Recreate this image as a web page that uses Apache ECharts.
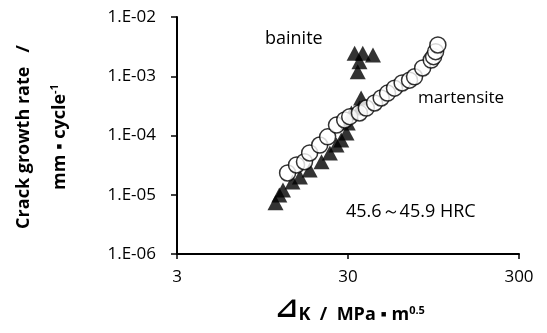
<!DOCTYPE html>
<html>
<head>
<meta charset="utf-8">
<script src="https://cdn.jsdelivr.net/npm/echarts@6/dist/echarts.min.js"></script>
<style>
  html, body { margin: 0; padding: 0; background: #fff; }
  #main { width: 547px; height: 333px; }
</style>
</head>
<body>
<div id="main"></div>
<script>
// ΔK (MPa·m^0.5) and crack growth rate (mm/cycle)
var bainiteK = [11.3, 11.9, 12.5, 14.2, 15.7, 17.9, 21.0, 23.5, 25.7, 27.4, 29.4, 29.9, 31.4, 35.0, 35.8, 34.2, 35.0, 32.8, 36.6, 42.0];
var bainiteRate = [7.3e-6, 9.9e-6, 1.2e-5, 1.64e-5, 2.0e-5, 2.62e-5, 3.6e-5, 5.07e-5, 6.9e-5, 8.4e-5, 1.1e-4, 1.63e-4, 2.4e-4, 2.9e-4, 4.3e-4, 1.19e-3, 1.76e-3, 2.44e-3, 2.44e-3, 2.28e-3];

var martK = [13.3, 15.0, 16.7, 17.9, 20.5, 22.8, 25.7, 28.7, 30.7, 35.0, 38.4, 42.9, 46.9, 51.1, 56.1, 62.2, 68.7, 73.5, 82, 92, 95, 97.6, 100.6];
var martRate = [2.33e-5, 3.18e-5, 3.61e-5, 5.07e-5, 6.9e-5, 9.5e-5, 1.5e-4, 1.83e-4, 2.08e-4, 2.4e-4, 2.91e-4, 3.54e-4, 4.3e-4, 5.2e-4, 6.3e-4, 7.7e-4, 8.6e-4, 9.8e-4, 1.38e-3, 1.88e-3, 2.14e-3, 2.6e-3, 3.37e-3];

// x ticks are 3, 30, 300 -> log axis runs on K/3 so ticks land on decades
var xBase = 3;
var xTicks = ['3', '30', '300'];
var yTicks = ['1.E-06', '1.E-05', '1.E-04', '1.E-03', '1.E-02'];

var FONT = 'Open Sans';

function pairs(xs, ys) {
  var out = [];
  for (var i = 0; i < xs.length; i++) out.push([xs[i] / xBase, ys[i]]);
  return out;
}

var option = {
  backgroundColor: '#ffffff',
  animation: false,
  grid: { left: 177, right: 28, top: 17, bottom: 79 },
  xAxis: {
    type: 'log',
    logBase: 10,
    min: 1,
    max: 100,
    splitLine: { show: false },
    axisLine: { lineStyle: { color: '#000', width: 2 } },
    axisTick: { length: 5, lineStyle: { color: '#000', width: 1.5 } },
    axisLabel: {
      color: '#000', fontFamily: FONT, fontSize: 17, margin: 15,
      formatter: function (v) { return xTicks[Math.round(Math.log10(v))]; }
    }
  },
  yAxis: {
    type: 'log',
    logBase: 10,
    min: 1e-6,
    max: 1e-2,
    splitLine: { show: false },
    axisLine: { lineStyle: { color: '#000', width: 2 } },
    axisTick: { length: 6, lineStyle: { color: '#000', width: 1.5 } },
    axisLabel: {
      color: '#000', fontFamily: FONT, fontSize: 17, margin: 21,
      formatter: function (v) { return yTicks[Math.round(Math.log10(v)) + 6]; }
    }
  },
  series: [{
    name: 'bainite',
    type: 'scatter',
    symbol: 'triangle',
    symbolSize: [16, 15],
    itemStyle: { color: '#000' },
    data: pairs(bainiteK, bainiteRate)
  }, {
    name: 'martensite',
    type: 'scatter',
    symbol: 'circle',
    symbolSize: 16,
    itemStyle: { color: '#fff', borderColor: '#000', borderWidth: 1.5 },
    data: pairs(martK, martRate)
  }],
  graphic: [
    { type: 'text', left: 265, top: 30,
      style: { text: 'bainite', fontFamily: FONT, fontSize: 18, fill: '#000' } },
    { type: 'text', left: 418, top: 90,
      style: { text: 'martensite', fontFamily: FONT, fontSize: 17, fill: '#000' } },
    { type: 'text', left: 346, top: 203,
      style: { text: '45.6～45.9 HRC', fontFamily: FONT, fontSize: 18, fill: '#000' } },
    // y axis title, two rotated lines
    { type: 'text', x: 24, y: 137, rotation: Math.PI / 2,
      style: { text: 'Crack growth rate   /', fontFamily: FONT, fontWeight: 'bold', fontSize: 18,
               fill: '#000', align: 'center', verticalAlign: 'middle' } },
    { type: 'text', x: 59, y: 137, rotation: Math.PI / 2,
      style: {
        text: '{a|mm ▪ cycle}{s|-1}',
        align: 'center', verticalAlign: 'middle',
        rich: {
          a: { fontFamily: FONT, fontWeight: 'bold', fontSize: 18, fill: '#000', lineHeight: 20, verticalAlign: 'bottom' },
          s: { fontFamily: FONT, fontWeight: 'bold', fontSize: 11, fill: '#000', lineHeight: 20, verticalAlign: 'top' }
        }
      } },
    // x axis title
    { type: 'text', x: 350, y: 313,
      style: {
        text: '{d|⊿}{a|K  /  MPa ▪ m}{s|0.5}',
        align: 'center', verticalAlign: 'middle',
        rich: {
          d: { fontFamily: 'DejaVu Sans', fontWeight: 'bold', fontSize: 28, fill: '#000', lineHeight: 22, verticalAlign: 'bottom' },
          a: { fontFamily: FONT, fontWeight: 'bold', fontSize: 18, fill: '#000', lineHeight: 22, verticalAlign: 'bottom' },
          s: { fontFamily: FONT, fontWeight: 'bold', fontSize: 11, fill: '#000', lineHeight: 18, verticalAlign: 'top', padding: [3, 0, 0, 0] }
        }
      } }
  ]
};

var chart = echarts.init(document.getElementById('main'), null, { renderer: 'canvas' });
chart.setOption(option, true);
</script>
</body>
</html>
